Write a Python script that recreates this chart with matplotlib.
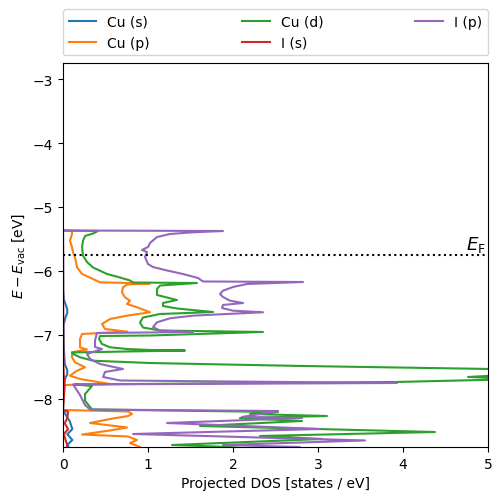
import numpy as np
import matplotlib
matplotlib.use("Agg")
import matplotlib.pyplot as plt

# projected DOS (energy in eV vs vacuum, DOS in states/eV)
e_fermi = -5.75

cu_s_e = [-5.367, -6.30, -6.45, -6.52, -6.60, -6.66, -6.72, -6.85, -7.20, -7.45,
          -7.55, -7.62, -7.66, -7.78, -8.17, -8.22, -8.35, -8.47, -8.55, -8.64,
          -8.72, -8.76]
cu_s_dos = [0.0, 0.003, 0.01, 0.03, 0.05, 0.05, 0.03, 0.005, 0.01, 0.02,
            0.05, 0.05, 0.03, 0.01, 0.0, 0.02, 0.08, 0.11, 0.05, 0.11,
            0.05, 0.07]

cu_p_e = [-5.367, -5.375, -5.422, -5.527, -5.630, -5.708, -5.786, -5.942, -6.047,
          -6.125, -6.177, -6.195, -6.211, -6.255, -6.333, -6.411, -6.464, -6.516,
          -6.567, -6.645, -6.698, -6.750, -6.828, -6.906, -6.948, -6.984, -7.063,
          -7.192, -7.227, -7.270, -7.348, -7.427, -7.505, -7.558, -7.636, -7.688,
          -7.766, -7.781, -8.172, -8.195, -8.234, -8.266, -8.313, -8.375, -8.445,
          -8.492, -8.555, -8.586, -8.641, -8.688, -8.75, -8.78]
cu_p_dos = [0.0, 0.106, 0.106, 0.082, 0.106, 0.118, 0.141, 0.165, 0.224,
            0.353, 0.435, 1.024, 0.753, 0.706, 0.694, 0.729, 0.788, 0.753,
            0.871, 1.024, 0.753, 0.553, 0.459, 0.494, 0.753, 0.224, 0.200,
            0.200, 0.282, 0.106, 0.106, 0.141, 0.259, 0.165, 0.082, 0.200,
            0.553, 0.0, 0.0, 0.765, 0.812, 0.765, 0.553, 0.318, 0.753,
            0.553, 0.224, 0.765, 0.871, 0.788, 0.906, 0.85]

cu_d_e = [-5.367, -5.375, -5.414, -5.453, -5.531, -5.625, -5.758, -5.859, -5.945,
          -6.047, -6.102, -6.148, -6.180, -6.188, -6.227, -6.281, -6.375, -6.453,
          -6.500, -6.547, -6.586, -6.641, -6.672, -6.727, -6.805, -6.883, -6.930,
          -6.953, -7.008, -7.016, -7.063, -7.141, -7.192, -7.219, -7.234, -7.242,
          -7.273, -7.297, -7.348, -7.402, -7.438, -7.484, -7.531, -7.578, -7.656,
          -7.688, -7.734, -7.773, -7.797, -7.922, -8.027, -8.164, -8.203, -8.234,
          -8.266, -8.297, -8.344, -8.422, -8.516, -8.578, -8.625, -8.719, -8.75,
          -8.78]
cu_d_dos = [0.0, 0.412, 0.353, 0.259, 0.235, 0.224, 0.235, 0.282, 0.353,
            0.518, 0.671, 0.788, 0.824, 1.576, 1.141, 1.106, 1.106, 1.341,
            1.176, 1.176, 1.341, 1.765, 1.141, 0.941, 0.906, 0.941, 1.141,
            2.353, 1.024, 0.435, 0.424, 0.459, 0.553, 0.753, 1.024, 1.435,
            0.106, 0.118, 0.200, 0.353, 1.024, 2.800, 5.020, 5.850, 4.765,
            5.400, 3.929, 0.141, 0.341, 0.259, 0.259, 0.341, 2.529, 2.200,
            3.106, 2.082, 2.812, 1.612, 4.376, 2.318, 3.047, 1.282, 1.965,
            2.2]

i_s_e = [-5.367, -7.50, -7.65, -7.80, -8.17, -8.20, -8.30, -8.38, -8.47, -8.55,
         -8.64, -8.72, -8.78]
i_s_dos = [0.0, 0.005, 0.01, 0.02, 0.0, 0.06, 0.05, 0.02, 0.06, 0.01,
           0.03, 0.05, 0.04]

i_p_e = [-5.367, -5.375, -5.398, -5.422, -5.469, -5.563, -5.625, -5.672, -5.703,
         -5.781, -5.891, -5.938, -5.992, -6.047, -6.109, -6.164, -6.172, -6.203,
         -6.250, -6.308, -6.359, -6.406, -6.464, -6.500, -6.531, -6.578, -6.620,
         -6.645, -6.672, -6.698, -6.739, -6.802, -6.875, -6.930, -6.953, -6.969,
         -7.089, -7.188, -7.219, -7.297, -7.375, -7.453, -7.531, -7.578, -7.656,
         -7.711, -7.750, -7.773, -7.938, -8.094, -8.164, -8.188, -8.281, -8.297,
         -8.375, -8.469, -8.547, -8.648, -8.719, -8.75, -8.797]
i_p_dos = [0.0, 1.882, 1.494, 1.259, 1.106, 1.024, 1.000, 0.929, 0.988,
           0.965, 1.000, 1.059, 1.224, 1.412, 1.588, 1.647, 2.824, 2.165,
           2.000, 1.882, 1.847, 1.882, 1.965, 2.118, 1.882, 1.871, 2.000,
           2.353, 1.929, 1.529, 1.259, 1.106, 1.059, 1.141, 1.529, 0.400,
           0.376, 0.376, 0.459, 0.282, 0.318, 0.435, 0.706, 0.494, 0.471,
           0.671, 3.929, 0.118, 0.200, 0.259, 0.318, 2.529, 2.106, 2.812,
           1.224, 3.024, 0.824, 3.553, 1.882, 2.788, 2.318]

series = [("Cu (s)", cu_s_e, cu_s_dos), ("Cu (p)", cu_p_e, cu_p_dos),
          ("Cu (d)", cu_d_e, cu_d_dos), ("I (s)", i_s_e, i_s_dos),
          ("I (p)", i_p_e, i_p_dos)]

fig = plt.figure(figsize=(5.02, 5.02), dpi=100)
ax = fig.add_axes([0.1255, 0.1076, 0.8466, 0.7649])

for label, e, d in series:
    ax.plot(d, e, label=label, lw=1.5)

ax.axhline(e_fermi, color="k", ls=":", lw=1.5)
ax.text(4.97, e_fermi + 0.02, r"$E_{\mathrm{F}}$", ha="right", va="bottom",
        fontsize=13)

ax.set_xlim(0, 5)
ax.set_ylim(-8.75, -2.75)
ax.set_xlabel("Projected DOS [states / eV]")
ax.set_ylabel(r"$E - E_{\mathrm{vac}}$ [eV]")
ax.legend(bbox_to_anchor=(0, 1.02, 1, 0.2), loc="lower left", mode="expand",
          ncol=3, borderaxespad=0)

fig.savefig("out.png", dpi=100)
